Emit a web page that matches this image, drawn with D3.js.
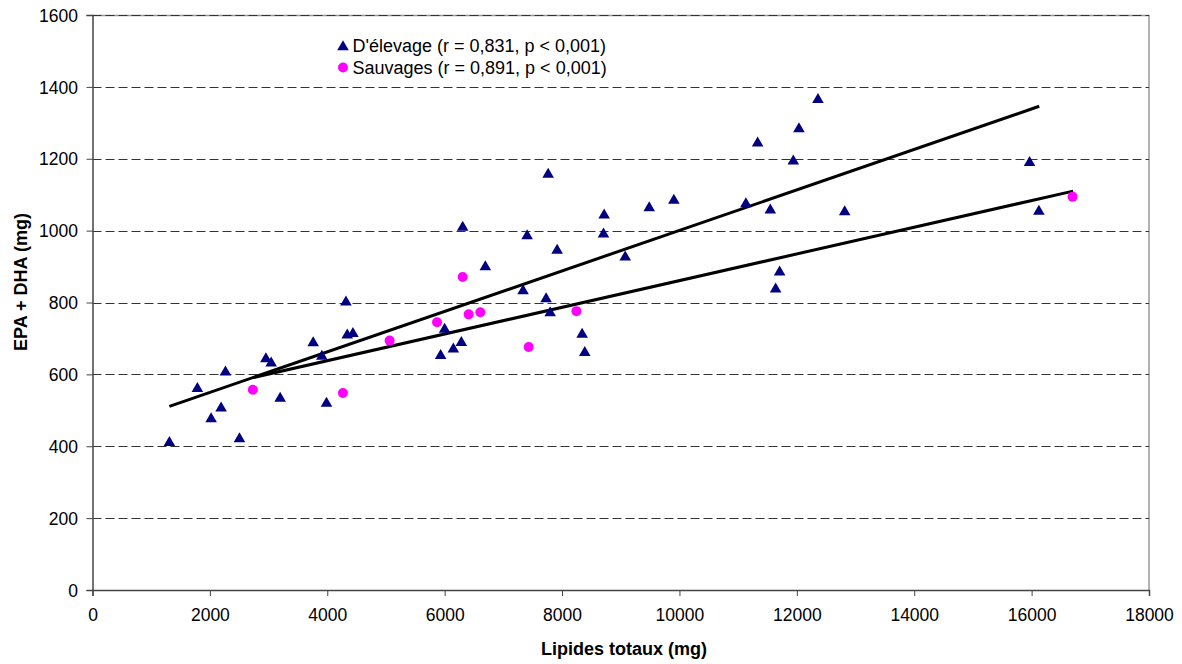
<!DOCTYPE html>
<html>
<head>
<meta charset="utf-8">
<script src="https://cdn.jsdelivr.net/npm/d3@7"></script>
<style>
    body { margin: 0; background: #fff; }
    svg { font-family: "Liberation Sans", Arial, sans-serif; }
    .tick text { font-size: 17.5px; fill: #000; }
    .axtitle { font-size: 18px; font-weight: bold; }
    .leg { font-size: 18px; }
</style>
</head>
<body>
<script>
// Lipides totaux (mg) / EPA + DHA (mg)
var elevageX = [1310, 1787, 2021, 2191, 2265, 2504, 2954, 3044, 3197, 3760, 3908, 3987, 4318, 4340, 4437,
    5931, 5999, 6148, 6284, 6307, 6693, 7336, 7405, 7728, 7763, 7797, 7916, 8342, 8387, 8706,
    8717, 9076, 9485, 9905, 11132, 11332, 11548, 11639, 11707, 11940, 12036, 12360, 12815, 15965, 16124];
var elevageY = [413, 563, 479, 509, 609, 423, 646, 634, 536, 690, 653, 522, 804, 712, 716,
    655, 728, 673, 691, 1012, 902, 835, 988, 813, 1159, 774, 948, 714, 663, 993,
    1046, 929, 1066, 1087, 1077, 1246, 1060, 840, 887, 1196, 1286, 1367, 1055, 1192, 1056];

var sauvagesX = [2732, 4267, 5062, 5870, 6307, 6409, 6608, 7432, 8245, 16698];
var sauvagesY = [557, 548, 694, 745, 871, 767, 773, 676, 776, 1094];

// droites de tendance (extrémités)
var trendElevage = [[1310, 511], [16130, 1346]];
var trendSauvages = [[2732, 591], [16708, 1110]];

var xTicks = [0, 2000, 4000, 6000, 8000, 10000, 12000, 14000, 16000, 18000];
var yTicks = [0, 200, 400, 600, 800, 1000, 1200, 1400, 1600];

var legendLabels = ["D'élevage (r = 0,831, p < 0,001)", "Sauvages (r = 0,891, p < 0,001)"];

var svg = d3.select('body').append('svg')
    .attr('width', 1182)
    .attr('height', 664);

var margin = { top: 15, right: 33, bottom: 74, left: 92.5 },
    width = 1182 - margin.left - margin.right,
    height = 664 - margin.top - margin.bottom,
    g = svg.append("g").attr("transform", "translate(" + margin.left + "," + margin.top + ")");

var x = d3.scaleLinear().domain([0, 18000]).range([0, width]);
var y = d3.scaleLinear().domain([0, 1600]).range([height, 0]);

// plot border (top / right)
g.append("path")
    .attr("d", "M0,0.5H" + width + "V" + height)
    .attr("fill", "none")
    .attr("stroke", "#999")
    .attr("stroke-width", 1.5);

// grid
g.append("g")
    .selectAll("line")
    .data(yTicks.filter(function (d) { return d > 0; }))
    .enter().append("line")
    .attr("x1", 0)
    .attr("x2", width)
    .attr("y1", function (d) { return Math.round(y(d)) + 0.5; })
    .attr("y2", function (d) { return Math.round(y(d)) + 0.5; })
    .attr("stroke", "#333")
    .attr("stroke-dasharray", "9,4");

var xAxis = g.append("g")
    .attr("transform", "translate(0," + height + ")")
    .call(d3.axisBottom(x).tickValues(xTicks).tickFormat(d3.format("d")).tickSize(6).tickPadding(12.5));

var yAxis = g.append("g")
    .call(d3.axisLeft(y).tickValues(yTicks).tickFormat(d3.format("d")).tickSize(6).tickPadding(8.5));

[xAxis, yAxis].forEach(function (a) {
    a.select(".domain").attr("stroke", "#444").attr("stroke-width", 1.5);
    a.selectAll(".tick line").attr("stroke", "#444");
});
yAxis.selectAll(".tick text").attr("dy", "0.35em");

// trend lines
var line = d3.line()
    .x(function (d) { return x(d[0]); })
    .y(function (d) { return y(d[1]); });

g.selectAll(".trend")
    .data([trendElevage, trendSauvages])
    .enter().append("path")
    .attr("class", "trend")
    .attr("d", line)
    .attr("fill", "none")
    .attr("stroke", "#000")
    .attr("stroke-width", 3);

var tri = d3.symbol().type(d3.symbolTriangle).size(58);

g.append("g")
    .selectAll("path")
    .data(d3.zip(elevageX, elevageY))
    .enter().append("path")
    .attr("d", tri)
    .attr("transform", function (d) { return "translate(" + x(d[0]) + "," + (y(d[1]) + 1) + ")"; })
    .attr("fill", "#000080");

g.append("g")
    .selectAll("circle")
    .data(d3.zip(sauvagesX, sauvagesY))
    .enter().append("circle")
    .attr("cx", function (d) { return x(d[0]); })
    .attr("cy", function (d) { return y(d[1]); })
    .attr("r", 5)
    .attr("fill", "#ff00ff");

// legend
var legend = svg.append("g")
    .attr("transform", "translate(343,46)")
    .selectAll("g")
    .data(legendLabels)
    .enter().append("g")
    .attr("transform", function (d, i) { return "translate(0," + (i * 21.5) + ")"; });

legend.filter(function (d, i) { return i === 0; })
    .append("path")
    .attr("d", tri)
    .attr("transform", "translate(0,1)")
    .attr("fill", "#000080");

legend.filter(function (d, i) { return i === 1; })
    .append("circle")
    .attr("r", 5)
    .attr("fill", "#ff00ff");

legend.append("text")
    .attr("class", "leg")
    .attr("x", 9.5)
    .attr("dy", "0.35em")
    .text(function (d) { return d; });

// axis titles
svg.append("text")
    .attr("class", "axtitle")
    .attr("x", 624)
    .attr("y", 649)
    .attr("dy", "0.35em")
    .style("text-anchor", "middle")
    .text("Lipides totaux (mg)");

svg.append("text")
    .attr("class", "axtitle")
    .attr("transform", "translate(21,282) rotate(-90)")
    .attr("dy", "0.35em")
    .style("text-anchor", "middle")
    .text("EPA + DHA (mg)");
</script>
</body>
</html>
